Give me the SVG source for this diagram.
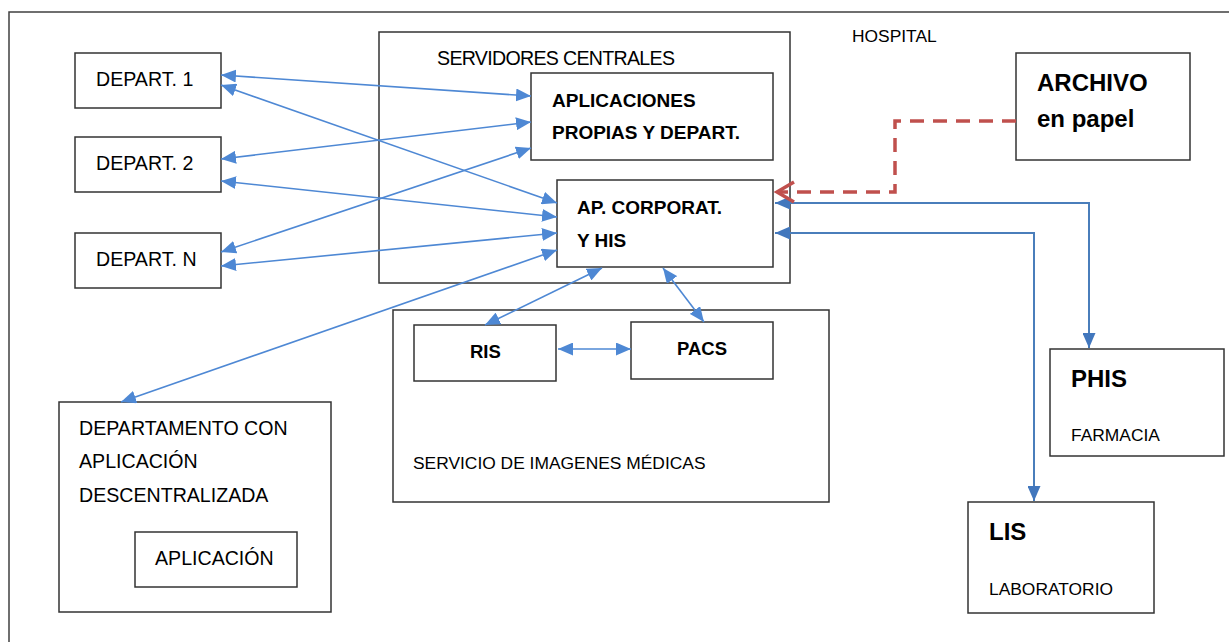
<svg xmlns="http://www.w3.org/2000/svg" width="1229" height="642" viewBox="0 0 1229 642">
<style>
  .box { fill: #ffffff; stroke: #333333; stroke-width: 1.5; }
  .frame { fill: none; stroke: #404040; stroke-width: 1.5; }
  text { font-family: "Liberation Sans", Arial, sans-serif; fill: #000000; }
  .r19 { font-size: 19.6px; }
  .r17 { font-size: 17.4px; }
  .b19 { font-size: 19px; font-weight: bold; }
  .b18 { font-size: 18.5px; font-weight: bold; }
  .b24 { font-size: 24px; font-weight: bold; }
  .ln { fill: none; stroke: #4e88d4; stroke-width: 1.6; marker-start: url(#ah); marker-end: url(#ah); }
  .ln2 { fill: none; stroke: #4a7ebb; stroke-width: 2; marker-start: url(#ah2); marker-end: url(#ah2); }
  .red { fill: none; stroke: #c0504d; stroke-width: 3.5; }
</style>
<defs>
  <marker id="ah" markerUnits="userSpaceOnUse" viewBox="0 0 15 13" markerWidth="15" markerHeight="13" refX="15" refY="6.5" orient="auto-start-reverse">
    <path d="M0,0 L15,6.5 L0,13 z" fill="#4e88d4"/>
  </marker>
  <marker id="ah2" markerUnits="userSpaceOnUse" viewBox="0 0 15 13" markerWidth="15" markerHeight="13" refX="15" refY="6.5" orient="auto-start-reverse">
    <path d="M0,0 L15,6.5 L0,13 z" fill="#4277bd"/>
  </marker>
</defs>
<rect width="1229" height="642" fill="#ffffff"/>

<g id="hospital">
  <path class="frame" d="M9,642 V12 H1229"/>
  <text class="r17" x="852" y="42">HOSPITAL</text>
</g>

<g id="servidores-centrales">
  <rect class="box" x="379" y="32" width="411" height="251"/>
  <text class="r19" x="437" y="65" textLength="238">SERVIDORES CENTRALES</text>
</g>

<g id="aplicaciones-propias">
  <rect class="box" x="531" y="73" width="242" height="87"/>
  <text class="b19" x="552" y="107">APLICACIONES</text>
  <text class="b19" x="552" y="139">PROPIAS Y DEPART.</text>
</g>

<g id="ap-corporat">
  <rect class="box" x="557" y="180" width="216" height="87"/>
  <text class="b19" x="577" y="214">AP. CORPORAT.</text>
  <text class="b19" x="577" y="247">Y HIS</text>
</g>

<g id="archivo">
  <rect class="box" x="1016" y="53" width="174" height="107"/>
  <text class="b24" x="1037" y="91">ARCHIVO</text>
  <text class="b24" x="1037" y="127">en papel</text>
</g>

<g id="depart-1">
  <rect class="box" x="75" y="53" width="146" height="55"/>
  <text class="r19" x="96" y="86">DEPART. 1</text>
</g>

<g id="depart-2">
  <rect class="box" x="75" y="137" width="146" height="55"/>
  <text class="r19" x="96" y="170">DEPART. 2</text>
</g>

<g id="depart-n">
  <rect class="box" x="75" y="233" width="146" height="55"/>
  <text class="r19" x="96" y="266">DEPART. N</text>
</g>

<g id="servicio-imagenes">
  <rect class="box" x="393" y="310" width="436" height="192"/>
  <text class="r17" x="413" y="469">SERVICIO DE IMAGENES MÉDICAS</text>
</g>

<g id="ris">
  <rect class="box" x="414" y="325" width="142" height="56"/>
  <text class="b18" x="470" y="358">RIS</text>
</g>

<g id="pacs">
  <rect class="box" x="631" y="322" width="142" height="57"/>
  <text class="b18" x="677" y="355">PACS</text>
</g>

<g id="departamento-descentralizado">
  <rect class="box" x="59" y="402" width="272" height="210"/>
  <text class="r19" x="79" y="435">DEPARTAMENTO CON</text>
  <text class="r19" x="79" y="468">APLICACIÓN</text>
  <text class="r19" x="79" y="502">DESCENTRALIZADA</text>
</g>

<g id="aplicacion">
  <rect class="box" x="135" y="532" width="162" height="55"/>
  <text class="r19" x="155" y="565">APLICACIÓN</text>
</g>

<g id="phis">
  <rect class="box" x="1050" y="349" width="174" height="107"/>
  <text class="b24" x="1071" y="387">PHIS</text>
  <text class="r17" x="1071" y="441">FARMACIA</text>
</g>

<g id="lis">
  <rect class="box" x="968" y="502" width="186" height="111"/>
  <text class="b24" x="989" y="540">LIS</text>
  <text class="r17" x="989" y="595">LABORATORIO</text>
</g>

<g id="connectors">
  <path class="ln" d="M221,75 L531,96"/>
  <path class="ln" d="M221,85 L557,203"/>
  <path class="ln" d="M221,159 L531,122"/>
  <path class="ln" d="M221,181 L557,217"/>
  <path class="ln" d="M221,252 L531,148"/>
  <path class="ln" d="M221,266 L557,233"/>
  <path class="ln" d="M121,402 L557,250"/>
  <path class="ln" d="M602,268 L485,325"/>
  <path class="ln" d="M663,268 L704,322"/>
  <path class="ln" d="M558,349 L631,349"/>
  <path class="ln2" d="M775,203 H1089 V348"/>
  <path class="ln2" d="M775,233 H1034 V501"/>
  <path class="red" stroke-dasharray="14 9" d="M1016,121 H895 V192 H778"/>
  <path class="red" d="M794,182 L777,192 L794,202"/>
</g>
</svg>
